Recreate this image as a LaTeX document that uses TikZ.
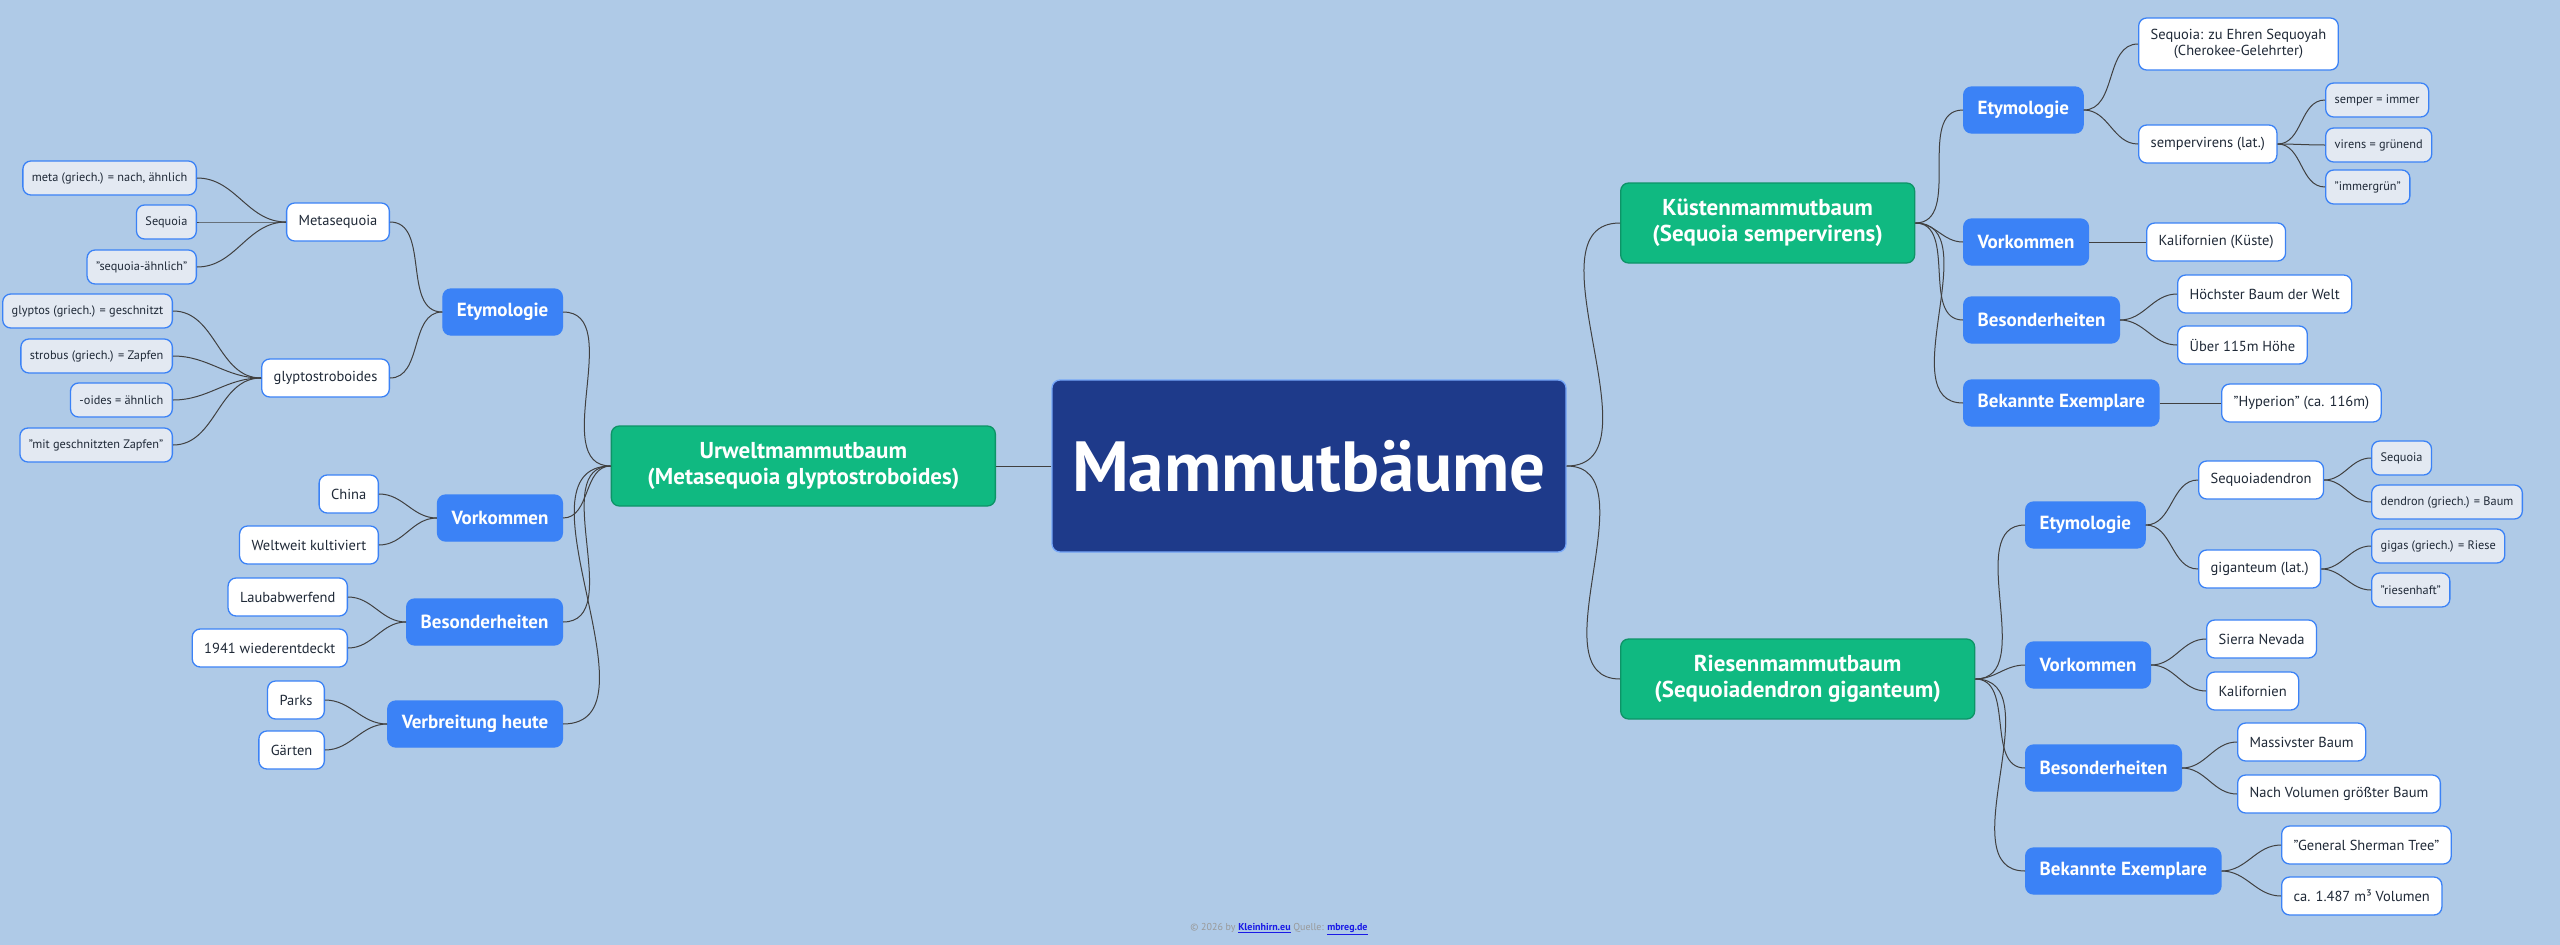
\documentclass[tikz,border=0pt]{standalone}
\usepackage{fontspec}
\setmainfont{PT Sans}
\definecolor{bg}{HTML}{AFCAE7}
\definecolor{navy}{HTML}{1E3A8A}
\definecolor{grn}{HTML}{10B981}
\definecolor{blu}{HTML}{3B82F6}
\definecolor{leaffill}{HTML}{E3E9F2}
\definecolor{txt}{HTML}{1F2937}
\definecolor{lnk}{HTML}{1A1AE6}
\tikzset{
  base/.style={rounded corners=8pt, align=center, line width=1.3pt},
  rootbox/.style={base, fill=navy, draw=blu!70, text=white, font=\fontsize{71}{75}\selectfont\bfseries, minimum width=514pt, minimum height=172pt},
  mainbox/.style={base, fill=grn, draw=grn!80!black, text=white, font=\fontsize{23}{26}\selectfont\bfseries, minimum height=80pt, inner xsep=14pt},
  catbox/.style={base, fill=blu, draw=blu, text=white, font=\fontsize{19}{21}\selectfont\bfseries, minimum height=46pt, inner xsep=14pt},
  itembox/.style={base, fill=white, draw=blu, text=txt, font=\fontsize{14.5}{16}\selectfont, minimum height=38pt, inner xsep=12pt},
  leafbox/.style={base, fill=leaffill, draw=blu, text=txt, font=\fontsize{12.3}{14}\selectfont, minimum height=34pt, inner xsep=9pt},
  conn/.style={draw=black!75, line width=1pt},
}
\begin{document}
\begin{tikzpicture}[x=1pt,y=-1pt]
\fill[bg] (0,0) rectangle (2560,945);
\useasboundingbox (0,0) rectangle (2560,945);

\node[rootbox] (root) at (1309,466) {Mammutbäume};
\node[mainbox, anchor=east, minimum width=384pt] (ur) at (996,466) {Urweltmammutbaum\\(Metasequoia glyptostroboides)};
\node[mainbox, anchor=west, minimum width=294pt] (ku) at (1620,223) {Küstenmammutbaum\\(Sequoia sempervirens)};
\node[mainbox, anchor=west, minimum width=354pt] (ri) at (1620,679) {Riesenmammutbaum\\(Sequoiadendron giganteum)};

% left side
\node[catbox, anchor=east] (uEty) at (563,312) {Etymologie};
\node[catbox, anchor=east] (uVor) at (563,518) {Vorkommen};
\node[catbox, anchor=east] (uBes) at (563,622) {Besonderheiten};
\node[catbox, anchor=east] (uVer) at (563,724) {Verbreitung heute};

\node[itembox, anchor=east] (uMeta) at (390,222) {Metasequoia};
\node[itembox, anchor=east] (uGly) at (390,378) {glyptostroboides};
\node[itembox, anchor=east] (uChi) at (379,494) {China};
\node[itembox, anchor=east] (uWel) at (379,545) {Weltweit kultiviert};
\node[itembox, anchor=east] (uLau) at (348,597) {Laubabwerfend};
\node[itembox, anchor=east] (u194) at (348,648) {1941 wiederentdeckt};
\node[itembox, anchor=east] (uPar) at (325,700) {Parks};
\node[itembox, anchor=east] (uGar) at (325,750) {Gärten};

\node[leafbox, anchor=east] (lMeta) at (197,178) {meta (griech.) = nach, ähnlich};
\node[leafbox, anchor=east] (lSeq) at (197,222) {Sequoia};
\node[leafbox, anchor=east] (lSeqA) at (197,267) {"sequoia-ähnlich"};
\node[leafbox, anchor=east] (lGly) at (173,311) {glyptos (griech.) = geschnitzt};
\node[leafbox, anchor=east] (lStr) at (173,356) {strobus (griech.) = Zapfen};
\node[leafbox, anchor=east] (lOid) at (173,400) {-oides = ähnlich};
\node[leafbox, anchor=east] (lMit) at (173,445) {"mit geschnitzten Zapfen"};

% right side: Kuesten
\node[catbox, anchor=west] (kEty) at (1963,110) {Etymologie};
\node[catbox, anchor=west] (kVor) at (1963,242) {Vorkommen};
\node[catbox, anchor=west] (kBes) at (1963,320) {Besonderheiten};
\node[catbox, anchor=west] (kBek) at (1963,403) {Bekannte Exemplare};

\node[itembox, anchor=west, minimum height=52pt] (kSeq) at (2138,44) {Sequoia: zu Ehren Sequoyah\\(Cherokee-Gelehrter)};
\node[itembox, anchor=west] (kSem) at (2138,144) {sempervirens (lat.)};
\node[itembox, anchor=west] (kKal) at (2146,242) {Kalifornien (Küste)};
\node[itembox, anchor=west] (kHoe) at (2177,294) {Höchster Baum der Welt};
\node[itembox, anchor=west] (kUeb) at (2177,345) {Über 115m Höhe};
\node[itembox, anchor=west] (kHyp) at (2221,403) {"Hyperion" (ca. 116m)};

\node[leafbox, anchor=west] (kS1) at (2325,100) {semper = immer};
\node[leafbox, anchor=west] (kS2) at (2325,145) {virens = grünend};
\node[leafbox, anchor=west] (kS3) at (2325,187) {"immergrün"};

% right side: Riesen
\node[catbox, anchor=west] (rEty) at (2025,525) {Etymologie};
\node[catbox, anchor=west] (rVor) at (2025,665) {Vorkommen};
\node[catbox, anchor=west] (rBes) at (2025,768) {Besonderheiten};
\node[catbox, anchor=west] (rBek) at (2025,871) {Bekannte Exemplare};

\node[itembox, anchor=west] (rSeqd) at (2198,480) {Sequoiadendron};
\node[itembox, anchor=west] (rGig) at (2198,569) {giganteum (lat.)};
\node[itembox, anchor=west] (rSie) at (2206,639) {Sierra Nevada};
\node[itembox, anchor=west] (rKal) at (2206,691) {Kalifornien};
\node[itembox, anchor=west] (rMas) at (2237,742) {Massivster Baum};
\node[itembox, anchor=west] (rNac) at (2237,794) {Nach Volumen größter Baum};
\node[itembox, anchor=west] (rGen) at (2281,845) {"General Sherman Tree"};
\node[itembox, anchor=west] (rCa) at (2281,896) {ca. 1.487 m³ Volumen};

\node[leafbox, anchor=west] (rL1) at (2371,458) {Sequoia};
\node[leafbox, anchor=west] (rL2) at (2371,502) {dendron (griech.) = Baum};
\node[leafbox, anchor=west] (rL3) at (2371,546) {gigas (griech.) = Riese};
\node[leafbox, anchor=west] (rL4) at (2371,590) {"riesenhaft"};

% connectors
\draw[conn] (root.west) -- (ur.east);
\foreach \c in {ku,ri} \draw[conn] (root.east) to[out=0,in=180] (\c.west);
\foreach \c in {uEty,uVor,uBes,uVer} \draw[conn] (ur.west) to[out=180,in=0] (\c.east);
\foreach \c in {uMeta,uGly} \draw[conn] (uEty.west) to[out=180,in=0] (\c.east);
\foreach \c in {uChi,uWel} \draw[conn] (uVor.west) to[out=180,in=0] (\c.east);
\foreach \c in {uLau,u194} \draw[conn] (uBes.west) to[out=180,in=0] (\c.east);
\foreach \c in {uPar,uGar} \draw[conn] (uVer.west) to[out=180,in=0] (\c.east);
\foreach \c in {lMeta,lSeq,lSeqA} \draw[conn] (uMeta.west) to[out=180,in=0] (\c.east);
\foreach \c in {lGly,lStr,lOid,lMit} \draw[conn] (uGly.west) to[out=180,in=0] (\c.east);

\foreach \c in {kEty,kVor,kBes,kBek} \draw[conn] (ku.east) to[out=0,in=180] (\c.west);
\foreach \c in {kSeq,kSem} \draw[conn] (kEty.east) to[out=0,in=180] (\c.west);
\draw[conn] (kVor.east) -- (kKal.west);
\foreach \c in {kHoe,kUeb} \draw[conn] (kBes.east) to[out=0,in=180] (\c.west);
\draw[conn] (kBek.east) -- (kHyp.west);
\foreach \c in {kS1,kS2,kS3} \draw[conn] (kSem.east) to[out=0,in=180] (\c.west);

\foreach \c in {rEty,rVor,rBes,rBek} \draw[conn] (ri.east) to[out=0,in=180] (\c.west);
\foreach \c in {rSeqd,rGig} \draw[conn] (rEty.east) to[out=0,in=180] (\c.west);
\foreach \c in {rSie,rKal} \draw[conn] (rVor.east) to[out=0,in=180] (\c.west);
\foreach \c in {rMas,rNac} \draw[conn] (rBes.east) to[out=0,in=180] (\c.west);
\foreach \c in {rGen,rCa} \draw[conn] (rBek.east) to[out=0,in=180] (\c.west);
\foreach \c in {rL1,rL2} \draw[conn] (rSeqd.east) to[out=0,in=180] (\c.west);
\foreach \c in {rL3,rL4} \draw[conn] (rGig.east) to[out=0,in=180] (\c.west);

\node[font=\fontsize{10}{12}\selectfont, text=black!40] (foot) at (1279,929)
  {© 2026 by \textcolor{lnk}{\underline{\textbf{Kleinhirn.eu}}} Quelle: \textcolor{lnk}{\underline{\textbf{mbreg.de}}}};
\end{tikzpicture}
\end{document}
